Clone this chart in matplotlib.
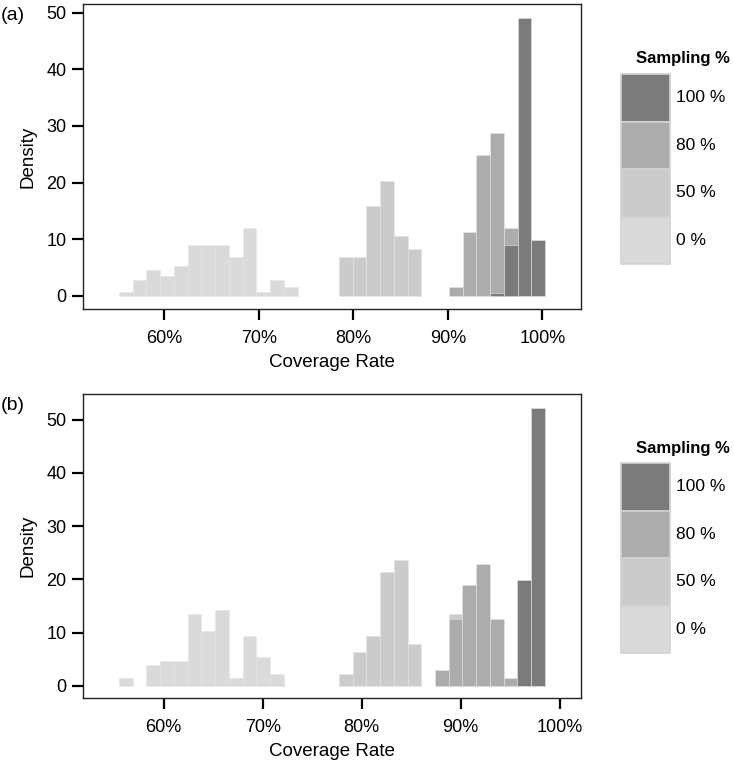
import numpy as np
import matplotlib
matplotlib.use("Agg")
import matplotlib.pyplot as plt
from matplotlib.patches import Rectangle

plt.rcParams['font.family'] = ['Liberation Sans', 'DejaVu Sans']

############ shared bins (30-ish equal bins over the pooled data)
groups = ['0 %', '50 %', '80 %', '100 %']
colors = ['#dadada', '#cbcbcb', '#acacac', '#7b7b7b']

############ panel (a)
a_start, a_width = 55.2, 1.455
a_first = [0, 16, 24, 27]
a_0 = [0.7, 2.9, 4.5, 3.6, 5.2, 9.0, 9.0, 9.0, 6.8, 12.0, 0.7, 2.9, 1.5]
a_50 = [6.8, 6.8, 15.8, 20.3, 10.5, 8.3]
a_80 = [1.5, 11.3, 24.9, 28.7, 12.0]
a_100 = [0.6, 9.0, 49.1, 9.8]

############ panel (b)
b_start, b_width = 55.48, 1.388
b_first = [0, 16, 23, 29]
b_0 = [1.5, 0, 3.9, 4.6, 4.6, 13.4, 10.3, 14.2, 1.5, 9.4, 5.4, 2.3]
b_50 = [2.3, 6.3, 9.4, 21.3, 23.7, 7.8, 0, 0, 13.4]
b_80 = [3.0, 12.6, 18.9, 22.9, 12.6, 1.5]
b_100 = [19.8, 52.2]

x_ticks = [60, 70, 80, 90, 100]
y_ticks = [0, 10, 20, 30, 40, 50]

W, H = 734, 765
fig = plt.figure(figsize=(W/100, H/100), dpi=100)


def fx(px):
    return px / W


def fy(py):
    return 1 - py / H


def panel(rect, start, width, firsts, series, xlim, ylim, tag):
    ax = fig.add_axes(rect)
    for first, vals, col in zip(firsts, series, colors):
        vals = np.array(vals)
        idx = first + np.arange(len(vals))
        keep = vals > 0
        ax.bar(start + idx[keep]*width, vals[keep], width=width, align='edge',
               color=col, edgecolor='#e4e4e4', linewidth=0.4)
    ax.set_xlim(*xlim)
    ax.set_ylim(*ylim)
    ax.set_xticks(x_ticks)
    ax.set_xticklabels(['%d%%' % t for t in x_ticks])
    ax.set_yticks(y_ticks)
    ax.tick_params(direction='out', length=8, width=1.6, labelsize=13, pad=4)
    ax.tick_params(axis='x', pad=7)
    for s in ax.spines.values():
        s.set_linewidth(1.0)
        s.set_color('#222222')
    ax.set_xlabel('Coverage Rate', fontsize=13.5, labelpad=5)
    ax.set_ylabel('Density', fontsize=13.5, labelpad=7)
    fig.text(fx(1), rect[1] + rect[3] - 0.004, tag, fontsize=14, va='top', ha='left')
    return ax


panel([fx(83), fy(309), fx(581-83), (309-4)/H], a_start, a_width, a_first,
      [a_0, a_50, a_80, a_100], (51.4, 104.1), (-2.3, 51.5), '(a)')
panel([fx(83), fy(698), fx(581-83), (698-394)/H], b_start, b_width, b_first,
      [b_0, b_50, b_80, b_100], (51.85, 102.15), (-2.3, 54.8), '(b)')


def legend(title_y, key_top):
    fig.text(fx(636), fy(title_y), 'Sampling %', fontsize=12, fontweight='bold',
             va='center', ha='left')
    kh = 47.5
    for i, (g, c) in enumerate(zip(groups[::-1], colors[::-1])):
        top = key_top + i*kh
        fig.patches.append(Rectangle((fx(621), fy(top + kh)), fx(49), kh/H,
                                     transform=fig.transFigure, facecolor=c,
                                     edgecolor='#d2d2d2', linewidth=1.2))
        fig.text(fx(676), fy(top + kh/2), g, fontsize=12.5, va='center', ha='left')


legend(58, 74)
legend(448, 463)

fig.savefig('out.png', dpi=100)
